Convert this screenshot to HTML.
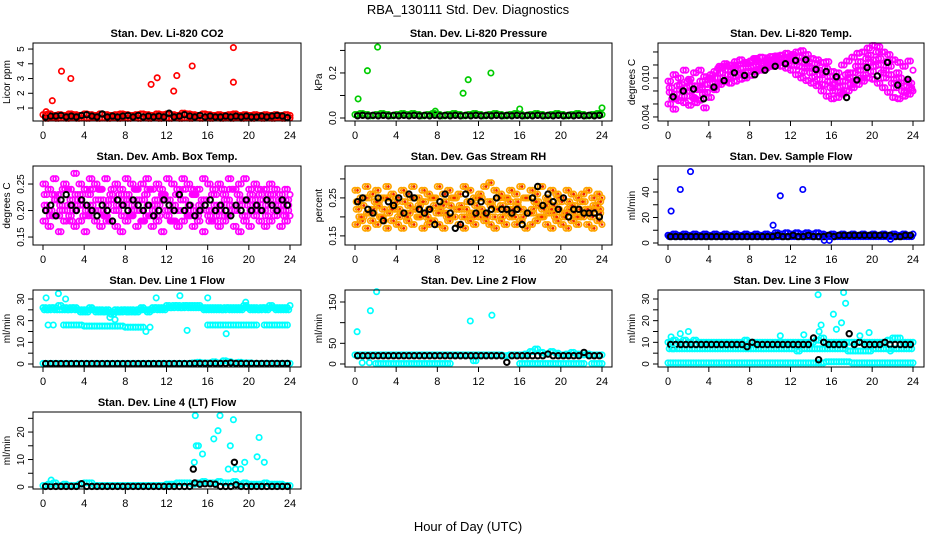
<!DOCTYPE html>
<html><head><meta charset="utf-8"><style>
html,body{margin:0;padding:0;background:#fff;}
svg{display:block;font-family:"Liberation Sans",sans-serif;}
</style></head><body>
<svg id="chart" width="936" height="540" viewBox="0 0 936 540">
<text x="468" y="14" text-anchor="middle" font-size="13">RBA_130111  Std. Dev. Diagnostics</text>
<text x="468" y="531" text-anchor="middle" font-size="13">Hour of Day (UTC)</text>
</svg>
<script>
const xTicks = [0,4,8,12,16,20,24];
// CO2
const co2Hi = [0.55,0.6,0.5,0.55,0.5,0.6,0.55,0.5,0.6,0.55,0.5,0.6,0.55,0.5,0.55,0.6,0.55,0.5,0.55,0.6,0.55,0.5,0.6,0.55,0.6,0.55,0.5,0.65,0.6,0.55,0.5,0.6,0.55,0.5,0.55,0.5,0.55,0.6,0.5,0.55,0.5,0.55,0.5,0.55,0.5,0.55,0.5,0.55,0.5];
const co2Lo = [0.3,0.35,0.3,0.32,0.3,0.35,0.3,0.32,0.3,0.35,0.3,0.32,0.3,0.35,0.3,0.32,0.3,0.35,0.3,0.32,0.3,0.35,0.3,0.32,0.3,0.35,0.3,0.32,0.3,0.35,0.3,0.32,0.3,0.35,0.3,0.32,0.3,0.35,0.3,0.32,0.3,0.35,0.3,0.32,0.3,0.35,0.3,0.32,0.3];
const co2Mean = [0.4,0.45,0.45,0.5,0.4,0.45,0.4,0.5,0.55,0.45,0.4,0.6,0.4,0.45,0.4,0.45,0.5,0.4,0.5,0.4,0.45,0.4,0.45,0.4,0.65,0.4,0.45,0.55,0.45,0.4,0.5,0.4,0.45,0.4,0.4,0.45,0.4,0.45,0.4,0.45,0.4,0.4,0.45,0.4,0.45,0.5,0.45,0.35];
const co2OutT = [0.3,0.9,1.8,2.7,10.5,11.1,12.7,13.0,14.5,18.5,18.5];
const co2OutY = [0.75,1.5,3.5,3.0,2.6,3.05,2.15,3.2,3.85,5.1,2.75];
// Pressure
const presBand = [0.015,0.02,0.015,0.01,0.015,0.02,0.015,0.01,0.015,0.02,0.015,0.02,0.015,0.01,0.015,0.02,0.015,0.01,0.015,0.02,0.015,0.01,0.015,0.02,0.015,0.01,0.015,0.02,0.015,0.01,0.015,0.02,0.015,0.01,0.015,0.02,0.015,0.01,0.015,0.02,0.015,0.01,0.015,0.02,0.015,0.01,0.015,0.02,0.015];
const presMean = [0.01,0.012,0.01,0.012,0.01,0.012,0.01,0.012,0.01,0.012,0.01,0.012,0.01,0.012,0.01,0.012,0.01,0.012,0.01,0.012,0.01,0.012,0.01,0.012,0.01,0.012,0.01,0.012,0.01,0.012,0.01,0.012,0.01,0.012,0.01,0.012,0.01,0.012,0.01,0.012,0.01,0.012,0.01,0.012,0.01,0.012,0.01,0.012];
const presOutT = [0.3,1.2,2.2,7.8,10.5,11.0,13.2,16.0,24.0];
const presOutY = [0.085,0.21,0.315,0.03,0.11,0.17,0.2,0.04,0.045];
// Li-820 temp
const tmpHi = [0.0095,0.0105,0.0100,0.0112,0.0098,0.0108,0.0112,0.0102,0.0100,0.0110,0.0118,0.0122,0.0120,0.0125,0.0128,0.0124,0.0126,0.0130,0.0132,0.0131,0.0133,0.0134,0.0135,0.0138,0.0133,0.0140,0.0142,0.0136,0.0130,0.0128,0.0124,0.0125,0.0110,0.0108,0.0120,0.0126,0.0132,0.0138,0.0140,0.0146,0.0150,0.0148,0.0140,0.0136,0.0128,0.0124,0.0118,0.0126,0.0112];
const tmpMid = [0.0078,0.0075,0.0082,0.0085,0.0080,0.0088,0.0085,0.0090,0.0092,0.0100,0.0108,0.0112,0.0110,0.0112,0.0115,0.0110,0.0118,0.0120,0.0122,0.0124,0.0126,0.0128,0.0128,0.0130,0.0128,0.0126,0.0124,0.0118,0.0115,0.0112,0.0108,0.0095,0.0090,0.0086,0.0095,0.0100,0.0108,0.0112,0.0118,0.0124,0.0128,0.0120,0.0112,0.0105,0.0098,0.0092,0.0088,0.0092,0.0090];
const tmpLo = [0.0060,0.0052,0.0065,0.0062,0.0058,0.0068,0.0066,0.0054,0.0070,0.0082,0.0090,0.0094,0.0092,0.0095,0.0098,0.0100,0.0104,0.0110,0.0112,0.0115,0.0118,0.0120,0.0118,0.0115,0.0112,0.0105,0.0100,0.0096,0.0092,0.0088,0.0080,0.0072,0.0068,0.0070,0.0075,0.0080,0.0085,0.0090,0.0095,0.0100,0.0098,0.0092,0.0085,0.0078,0.0070,0.0068,0.0072,0.0075,0.0080];
const tmpX1 = [0.0085,0.0068,0.0090,0.0072,0.0088,0.0062,0.0095,0.0078,0.0105,0.0092,0.0100,0.0118,0.0102,0.0120,0.0108,0.0122,0.0110,0.0125,0.0115,0.0128,0.0122,0.0132,0.0124,0.0122,0.0136,0.0118,0.0110,0.0125,0.0102,0.0098,0.0090,0.0102,0.0080,0.0095,0.0088,0.0108,0.0095,0.0125,0.0105,0.0135,0.0118,0.0130,0.0100,0.0118,0.0085,0.0100,0.0078,0.0085,0.0095];
const tmpX2 = [0.0068,0.0088,0.0072,0.0095,0.0070,0.0082,0.0075,0.0098,0.0085,0.0115,0.0095,0.0105,0.0115,0.0105,0.0122,0.0116,0.0130,0.0114,0.0126,0.0118,0.0130,0.0124,0.0132,0.0126,0.0120,0.0132,0.0115,0.0108,0.0122,0.0105,0.0115,0.0085,0.0100,0.0078,0.0105,0.0090,0.0118,0.0100,0.0130,0.0110,0.0140,0.0108,0.0125,0.0092,0.0108,0.0080,0.0095,0.0082,0.0086];
const tmpMean = [0.0071,0.0080,0.0083,0.0068,0.0086,0.0096,0.0108,0.0104,0.0105,0.0112,0.0118,0.0122,0.0127,0.0128,0.0113,0.0110,0.0102,0.0070,0.0097,0.0116,0.0103,0.0124,0.0089,0.0098];
// Amb box temp
const boxHi = [0.25,0.24,0.26,0.23,0.25,0.24,0.27,0.25,0.24,0.26,0.25,0.24,0.26,0.23,0.25,0.24,0.26,0.25,0.24,0.25,0.26,0.24,0.25,0.23,0.26,0.25,0.24,0.26,0.25,0.23,0.24,0.26,0.25,0.24,0.25,0.23,0.26,0.24,0.25,0.26,0.24,0.25,0.23,0.24,0.25,0.24,0.23,0.24,0.23];
const boxMid = [0.21,0.2,0.22,0.21,0.2,0.22,0.21,0.23,0.2,0.21,0.22,0.2,0.21,0.22,0.2,0.21,0.22,0.21,0.2,0.22,0.21,0.2,0.21,0.22,0.2,0.21,0.2,0.22,0.21,0.2,0.21,0.22,0.2,0.21,0.2,0.22,0.21,0.2,0.21,0.22,0.2,0.21,0.2,0.21,0.22,0.2,0.21,0.2,0.21];
const boxLo = [0.18,0.17,0.19,0.16,0.18,0.19,0.17,0.18,0.16,0.19,0.18,0.17,0.19,0.18,0.17,0.16,0.18,0.19,0.17,0.18,0.19,0.17,0.18,0.16,0.19,0.18,0.17,0.18,0.19,0.17,0.18,0.16,0.19,0.18,0.17,0.18,0.19,0.17,0.16,0.18,0.17,0.19,0.18,0.17,0.18,0.19,0.17,0.18,0.19];
const boxX1 = [0.23,0.19,0.22,0.2,0.24,0.18,0.23,0.21,0.19,0.24,0.2,0.22,0.18,0.24,0.21,0.19,0.23,0.2,0.22,0.18,0.24,0.21,0.19,0.23,0.22,0.18,0.2,0.24,0.19,0.23,0.2,0.22,0.18,0.23,0.21,0.19,0.24,0.2,0.22,0.19,0.23,0.2,0.22,0.19,0.23,0.21,0.2,0.22,0.2];
const boxX2 = [0.2,0.23,0.19,0.24,0.21,0.2,0.22,0.19,0.23,0.2,0.24,0.19,0.22,0.2,0.23,0.22,0.19,0.24,0.2,0.23,0.19,0.22,0.24,0.2,0.18,0.23,0.22,0.2,0.24,0.19,0.22,0.2,0.23,0.19,0.24,0.22,0.2,0.23,0.19,0.21,0.22,0.24,0.2,0.23,0.2,0.22,0.19,0.21,0.22];
const boxMean = [0.2,0.21,0.19,0.22,0.23,0.21,0.2,0.22,0.21,0.2,0.19,0.21,0.2,0.18,0.22,0.21,0.2,0.22,0.21,0.2,0.21,0.19,0.2,0.22,0.21,0.2,0.23,0.2,0.21,0.19,0.2,0.21,0.22,0.2,0.21,0.2,0.19,0.21,0.2,0.22,0.2,0.21,0.2,0.22,0.21,0.2,0.22,0.21];
// RH
const rhHi = [0.27,0.25,0.28,0.26,0.27,0.25,0.28,0.26,0.25,0.27,0.26,0.28,0.25,0.27,0.26,0.25,0.28,0.26,0.27,0.25,0.26,0.28,0.27,0.25,0.26,0.28,0.29,0.27,0.26,0.25,0.27,0.26,0.28,0.25,0.27,0.26,0.28,0.25,0.27,0.26,0.25,0.27,0.26,0.25,0.26,0.27,0.25,0.26,0.25];
const rhMid = [0.22,0.23,0.21,0.22,0.23,0.22,0.21,0.23,0.22,0.21,0.23,0.22,0.23,0.21,0.22,0.23,0.22,0.21,0.23,0.22,0.23,0.22,0.21,0.23,0.22,0.21,0.23,0.22,0.23,0.21,0.22,0.23,0.22,0.21,0.22,0.23,0.22,0.21,0.23,0.22,0.21,0.22,0.23,0.22,0.21,0.22,0.23,0.22,0.21];
const rhLo = [0.18,0.19,0.17,0.19,0.18,0.2,0.17,0.19,0.18,0.17,0.19,0.18,0.2,0.17,0.18,0.19,0.18,0.17,0.19,0.2,0.18,0.17,0.19,0.18,0.2,0.19,0.18,0.17,0.19,0.18,0.2,0.18,0.19,0.17,0.18,0.19,0.2,0.18,0.17,0.19,0.18,0.17,0.19,0.18,0.2,0.18,0.17,0.19,0.18];
const rhX1 = [0.24,0.2,0.25,0.21,0.24,0.19,0.25,0.22,0.2,0.24,0.21,0.25,0.2,0.24,0.19,0.25,0.21,0.24,0.2,0.25,0.22,0.2,0.24,0.21,0.25,0.2,0.24,0.22,0.2,0.25,0.21,0.24,0.2,0.25,0.21,0.24,0.2,0.24,0.21,0.25,0.2,0.24,0.21,0.2,0.24,0.21,0.22,0.24,0.2];
const rhX2 = [0.2,0.25,0.21,0.24,0.2,0.25,0.22,0.24,0.21,0.2,0.25,0.22,0.24,0.2,0.25,0.21,0.23,0.2,0.25,0.22,0.2,0.24,0.2,0.25,0.21,0.24,0.2,0.25,0.22,0.24,0.2,0.22,0.25,0.21,0.24,0.2,0.23,0.22,0.2,0.24,0.21,0.23,0.2,0.24,0.22,0.2,0.23,0.21,0.24];
const rhMean = [0.24,0.25,0.22,0.21,0.25,0.19,0.24,0.23,0.25,0.21,0.26,0.25,0.22,0.21,0.22,0.18,0.24,0.26,0.21,0.17,0.18,0.26,0.24,0.21,0.24,0.21,0.22,0.25,0.22,0.22,0.21,0.22,0.18,0.21,0.25,0.28,0.23,0.26,0.24,0.22,0.25,0.2,0.22,0.22,0.21,0.21,0.21,0.2];
// Sample flow
const sfBand = [6,7,6,7,6,7,6,7,6,7,6,7,6,7,6,7,6,7,6,7,6,8,7,8,7,8,7,8,7,8,7,6,7,6,7,6,7,6,7,6,7,6,7,6,7,6,7,6,7];
const sfLo = [5,5,5,5,5,5,5,5,5,5,5,5,5,5,5,5,5,5,5,5,5,5,5,5,5,5,5,5,5,5,5,5,5,5,5,5,5,5,5,5,5,5,5,5,5,5,5,5,5];
const sfMean = [5,5,5,5,5,5,5,5,5,5,5,5,5,5,5,5,5,5,5,5,5,6,5,5,6,5,5,6,5,5,5,6,5,6,6,6,6,6,6,6,6,6,6,6,5,5,6,6];
const sfOutT = [0.3,1.2,2.2,10.3,11.0,13.2,15.3,15.8,21.8];
const sfOutY = [25,42,56,14,37,42,2,2,3];
// Line 1
const l1Up = [26,25,26,27,26,25,26,25,25,26,25,25,24,24,25,24,25,25,24,26,25,25,26,26,27,26,27,26,27,27,27,26,26,26,26,25,26,26,26,27,26,26,25,26,27,26,26,26,27];
const l1Up2 = [25,26,25,25,25,26,25,24,24,25,24,24,25,23,24,25,24,24,25,25,24,26,25,25,26,27,26,27,26,26,26,25,25,25,25,26,25,25,25,26,25,25,26,25,26,25,25,25,26];
const l1Mid = [null,null,null,null,18,18,18,18,17.5,17.5,17.5,17.5,17.5,17.5,17.5,17.5,17,17,17,17,null,null,null,null,null,null,null,null,null,null,null,null,18,18,18,18,18,18,18,18,18,18,null,18,18,18,18,18,null];
const l1Zero = [0.3,0.3,0.3,0.3,0.3,0.3,0.3,0.3,0.3,0.3,0.3,0.3,0.3,0.3,0.3,0.3,0.3,0.3,0.3,0.3,0.3,0.3,0.3,0.3,0.3,0.3,0.3,0.3,0.3,0.5,0.8,0.5,0.5,1.0,0.5,1.5,1.0,0.5,0.8,0.5,0.5,0.3,0.3,0.3,0.3,0.3,0.3,0.3,0.3];
const l1Mean = [0.2,0.2,0.2,0.2,0.2,0.2,0.2,0.2,0.2,0.2,0.2,0.2,0.2,0.2,0.2,0.2,0.2,0.2,0.2,0.2,0.2,0.2,0.2,0.2,0.2,0.2,0.2,0.2,0.2,0.3,0.3,0.3,0.3,0.3,0.3,0.3,0.5,0.3,0.3,0.3,0.3,0.3,0.3,0.3,0.3,0.3,0.3,0.3];
const l1OutT = [0.3,1.5,2.2,11.0,13.3,16.0,0.5,1.0,10.0,10.4,14.0,17.8,6.5,7.0,19.7];
const l1OutY = [30.5,32.5,30,30.5,31.5,30.5,18,18,15,17,15.5,14,21.5,20.5,28.5];
// Line 2
const l2Band = [22,22,22,22,22,22,22,22,22,22,22,22,22,22,22,22,22,22,22,22,22,22,22,22,22,22,22,22,22,20,22,22,22,24,30,36,28,24,30,26,22,24,28,24,22,24,22,22,22];
const l2Zero = [null,null,null,null,1,1,1,1,1,1,1,1,1,1,1,1,1,1,1,null,null,null,null,8,null,null,null,null,null,null,null,null,1,1,1,1,1,1,1,1,1,1,1,1,1,null,1,1,1];
const l2Mean = [20,20,20,20,20,20,20,20,20,20,20,20,20,20,20,20,20,20,20,20,20,20,20,20,20,20,20,20,20,4,20,20,20,20,20,20,20,24,20,20,20,20,20,20,28,20,20,20];
const l2OutT = [0.2,1.5,2.1,11.2,13.3,0.7,1.4];
const l2OutY = [78,129,175,104,118,3,3];
// Line 3
const l3Hi = [10,11,10,11,10,11,10,10,10,10,10,10,10,10,10,11,10,10,10,10,10,10,10,10,10,10,10,10,10,11,12,10,10,10,10,10,10,10,10,10,10,10,10,11,12,12,10,10,10];
const l3Lo = [7,7,7,7,7,7,7,7,7,7,7,7,7,7,7,7,7,7,7,7,7,7,7,7,7,6,7,7,7,7,7,7,7,7,7,6,6,6,6,6,7,7,7,7,7,7,7,7,7];
const l3Zero = [0.5,0.5,0.5,0.5,0.5,0.5,0.5,0.5,0.5,0.5,0.5,0.5,0.5,0.5,0.5,0.5,0.5,0.5,0.5,0.5,0.5,0.5,0.5,0.5,0.5,0.5,0.5,0.5,0.5,0.5,0.5,1,1,1,1,1,0.5,0.5,0.5,0.5,0.5,0.5,0.5,0.5,0.5,0.5,0.5,0.5,0.5];
const l3Mean = [9,9,9,9,9,9,9,9,9,9,9,9,9,9,9,8,10,9,9,9,9,9,9,9,9,9,9,9,12,2,10,9,9,9,9,14,9,10,9,9,9,9,10,9,9,9,9,9];
const l3OutT = [0.3,1.2,2.0,14.7,17.2,13.3,11.0,16.2,16.5,17.0,17.4,15.0,14.8,19.7,18.8,0.5,21.8];
const l3OutY = [12.5,14,15,32,33,13.5,13,23,16,19,28,18,15,14.5,13,7,6];
// Line 4
const l4Band = [0.5,1,1.5,0.5,1,0.5,0.5,1,1.5,1.5,0.5,0.5,0.5,0.5,0.5,0.5,0.5,0.5,0.5,0.5,0.5,0.5,0.5,0.5,1,1,1.5,1.5,1.5,1,1.5,2,1.5,1.5,2,1.5,1.5,2,1,1.5,1,1,1,1.5,1,1,1,0.5,0.5];
const l4Mean = [0.2,0.2,0.2,0.2,0.2,0.2,0.2,1.2,0.2,0.2,0.2,0.2,0.2,0.2,0.2,0.2,0.2,0.2,0.2,0.2,0.2,0.2,0.2,0.2,0.2,0.2,0.2,0.2,0.2,1.5,1,1.2,1.2,1,0.2,0.2,0.2,0.8,0.2,0.2,0.2,0.2,0.2,0.2,0.2,0.2,0.2,0.2];
const l4OutT = [14.7,14.8,14.9,15.1,15.5,16.6,17.0,17.2,18.0,18.2,18.5,18.7,19.2,19.6,20.8,21.0,21.5,0.8];
const l4OutY = [9,26,15,15,12,17.5,20.5,26,6.5,15,24.5,6.5,6.5,9,11,18,9,2.5];
const l4BlackOutT = [14.6,18.6];
const l4BlackOutY = [6.5,9];

const colBox = [[33,301,43,290],[345,612,355,602],[658,924,668,913]];
const rowBox = [[43,121],[166,245],[290,367],[412,489]];
const NS = 'http://www.w3.org/2000/svg';
const svg = document.getElementById('chart');
function mk(tag, attrs, parent){const e=document.createElementNS(NS,tag);for(const k in attrs)e.setAttribute(k,attrs[k]);(parent||svg).appendChild(e);return e;}

const M='#ff00ff', O='#ffa500', C='#00ffff';
const panels = [
 {name:'co2',c:0,r:0,title:'Stan. Dev. Li-820 CO2',ylab:'Licor ppm',dom:[0.12,5.41],ticks:[1,2,3,4,5],labs:['1','2','3','4','5'],
  series:[['#ff0000',co2Hi,0],['#ff0000',co2Lo,0.25],['#000',co2Mean,0.25]],out:[['#ff0000',co2OutT,co2OutY]]},
 {name:'pressure',c:1,r:0,title:'Stan. Dev. Li-820 Pressure',ylab:'kPa',dom:[-0.0133,0.333],ticks:[0,0.1,0.2,0.3],labs:['0.0','','0.2',''],
  series:[['#00cc00',presBand,0],['#000',presMean,0.25]],out:[['#00cc00',presOutT,presOutY]]},
 {name:'li820-temp',c:2,r:0,title:'Stan. Dev. Li-820 Temp.',ylab:'degrees C',dom:[0.00338,0.01538],ticks:[0.004,0.006,0.008,0.010,0.012,0.014],labs:['0.004','','','0.010','',''],
  series:[[M,tmpHi,0],[M,tmpMid,0.12],[M,tmpLo,0],[M,tmpX1,0.12],[M,tmpX2,0.37],['#000',tmpMean,0.5,1]],out:[]},
 {name:'box-temp',c:0,r:1,title:'Stan. Dev. Amb. Box Temp.',ylab:'degrees C',dom:[0.135,0.284],ticks:[0.15,0.20,0.25],labs:['0.15','0.20','0.25'],
  series:[[M,boxHi,0],[M,boxMid,0.12],[M,boxLo,0],[M,boxX1,0.12],[M,boxX2,0.37],['#000',boxMean,0.25]],out:[]},
 {name:'gas-rh',c:1,r:1,title:'Stan. Dev. Gas Stream RH',ylab:'percent',dom:[0.126,0.334],ticks:[0.15,0.20,0.25,0.30],labs:['0.15','','0.25',''],
  series:[[O,rhHi,0],[O,rhMid,0.12],[O,rhLo,0],[O,rhX1,0.12],[O,rhX2,0.37],['#000',rhMean,0.25]],out:[]},
 {name:'sample-flow',c:2,r:1,title:'Stan. Dev. Sample Flow',ylab:'ml/min',dom:[-1.57,60.4],ticks:[0,10,20,30,40,50],labs:['0','','20','','40',''],
  series:[['#0000ff',sfBand,0],['#0000ff',sfLo,0.12],['#000',sfMean,0.25]],out:[['#0000ff',sfOutT,sfOutY]]},
 {name:'line1-flow',c:0,r:2,title:'Stan. Dev. Line 1 Flow',ylab:'ml/min',dom:[-1.38,34.15],ticks:[0,5,10,15,20,25,30],labs:['0','','10','','20','','30'],
  series:[[C,l1Up,0],[C,l1Up2,0.12],[C,l1Mid,0],[C,l1Zero,0],['#000',l1Mean,0.25]],out:[[C,l1OutT,l1OutY]]},
 {name:'line2-flow',c:1,r:2,title:'Stan. Dev. Line 2 Flow',ylab:'ml/min',dom:[-7.3,179],ticks:[0,50,100,150],labs:['0','50','','150'],
  series:[[C,l2Band,0],[C,l2Zero,0],['#000',l2Mean,0.25]],out:[[C,l2OutT,l2OutY]]},
 {name:'line3-flow',c:2,r:2,title:'Stan. Dev. Line 3 Flow',ylab:'ml/min',dom:[-1.38,34.15],ticks:[0,5,10,15,20,25,30],labs:['0','','10','','20','','30'],
  series:[[C,l3Hi,0],[C,l3Lo,0.12],[C,l3Zero,0],['#000',l3Mean,0.25]],out:[[C,l3OutT,l3OutY]]},
 {name:'line4-flow',c:0,r:3,title:'Stan. Dev. Line 4 (LT) Flow',ylab:'ml/min',dom:[-0.73,27.3],ticks:[0,5,10,15,20,25],labs:['0','','10','','20',''],
  series:[[C,l4Band,0],['#000',l4Mean,0.25]],out:[[C,l4OutT,l4OutY],['#000',l4BlackOutT,l4BlackOutY]]}
];

function pt(g, x, y, col){
  const c = mk('circle',{cx:x.toFixed(1),cy:y.toFixed(1),r:2.7,fill:'none',stroke:col,'stroke-width':col==='#000'?2:1.7},g);
  
  
  if(col===O){const d=mk('circle',{cx:x.toFixed(1),cy:y.toFixed(1),r:1.3,fill:'#ee2200'},g);
    
    }
}

panels.forEach(p=>{
  const [bl,br,x0,x24]=colBox[p.c];const [bt,bb]=rowBox[p.r];
  const g = mk('g',{});
  
  
  const xs = h=> x0 + h/24*(x24-x0);
  const ys = v=> bb - (v-p.dom[0])/(p.dom[1]-p.dom[0])*(bb-bt);
  const t = mk('text',{x:(bl+br)/2,y:bt-6,'text-anchor':'middle','font-size':11,'font-weight':'bold'},g);
  t.textContent=p.title;
  
  
  const pg = mk('g',{},g);
  
  
  p.series.forEach(s=>{
    const [col,arr,off,step]=s;const st=step||0.5;
    const offs = col==='#000' ? [off] : [off, off+0.25];
    offs.forEach(o=>arr.forEach((v,i)=>{ if(v===null) return; const h=i*st+o; if(h>24.1) return; pt(pg, xs(h), ys(v), col); }));
  });
  p.out.forEach(o=>{ const [col,ta,ya]=o; ta.forEach((h,i)=>pt(pg, xs(h), ys(ya[i]), col)); });
  const b = mk('rect',{x:bl,y:bt,width:br-bl,height:bb-bt,fill:'none',stroke:'#000','stroke-width':1},g);
  
  
  const xa = mk('g',{},g);
  
  
  mk('line',{x1:x0,x2:x24,y1:bb,y2:bb,stroke:'#000'},xa);
  xTicks.forEach(h=>{
    mk('line',{x1:xs(h),x2:xs(h),y1:bb,y2:bb+5,stroke:'#000'},xa);
    const l = mk('text',{x:xs(h),y:bb+18,'text-anchor':'middle','font-size':11},xa);
    l.textContent=h;
    
    
  });
  const ya = mk('g',{},g);
  
  
  p.ticks.forEach((v,i)=>{
    const y=ys(v);
    mk('line',{x1:bl-5,x2:bl,y1:y,y2:y,stroke:'#000'},ya);
    if(p.labs[i]){
      const l=mk('text',{x:bl-9,y:y,'text-anchor':'middle','font-size':10,transform:`rotate(-90 ${bl-9} ${y})`},ya);
      l.textContent=p.labs[i];
      
      
    }
  });
  const yl=mk('text',{x:bl-23,y:(bt+bb)/2,'text-anchor':'middle','font-size':10,transform:`rotate(-90 ${bl-23} ${(bt+bb)/2})`},ya);
  yl.textContent=p.ylab;
  
  
});
</script>
</body></html>
